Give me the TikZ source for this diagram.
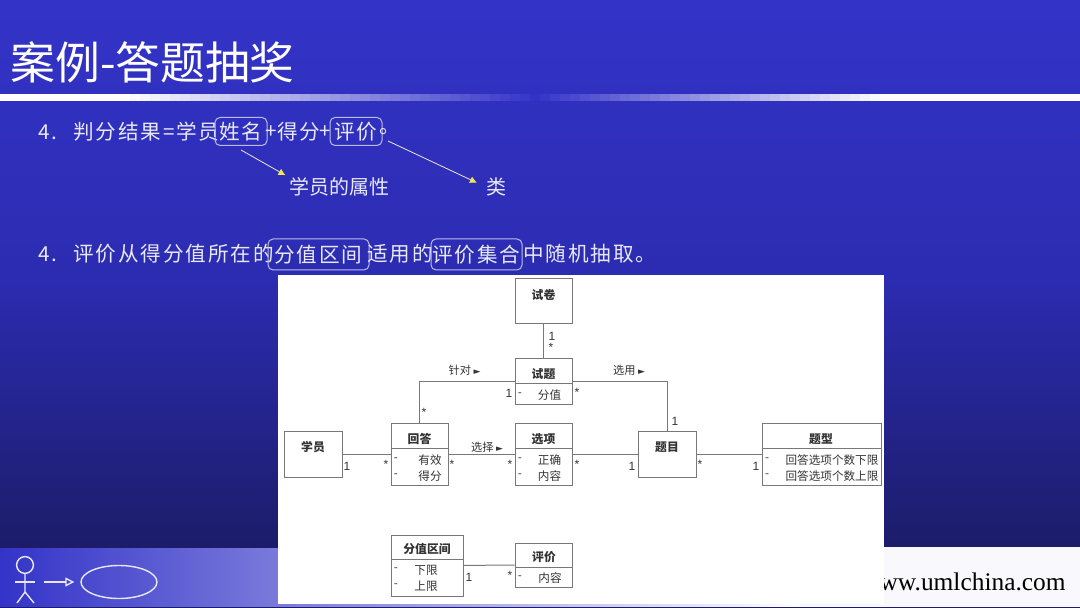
\documentclass[tikz,border=0pt]{standalone}
\usepackage{fontspec}
\setmainfont{Noto Sans CJK SC}
\newfontfamily\spacedfont[LetterSpace=9]{Noto Sans CJK SC}
\newfontfamily\latinsans{Liberation Sans}
\newfontfamily\latinserif{Liberation Serif}
\newfontfamily\symfont{DejaVu Sans}
\usetikzlibrary{arrows.meta,shapes.geometric}
\definecolor{slidetop}{HTML}{3333C8}
\definecolor{slidemid}{HTML}{2C2CB2}
\definecolor{slidebot}{HTML}{1C1C6A}
\definecolor{bodytext}{HTML}{E8E8F4}
\definecolor{umlline}{HTML}{787878}
\definecolor{umltext}{HTML}{333333}
\definecolor{tipyellow}{HTML}{F0E850}
\tikzset{
	bodytxt/.style={font=\spacedfont\fontsize{10.3}{13}\selectfont, text=bodytext, inner sep=0pt, anchor=west},
	labeltxt/.style={font=\fontsize{10}{12}\selectfont, text=bodytext, inner sep=0pt, anchor=west},
	markbox/.style={bodytxt, anchor=center, draw=bodytext!75!slidetop, line width=0.5pt, rounded corners=2.5pt, minimum height=14pt},
	pointer/.style={draw=bodytext!80!tipyellow, line width=0.4pt, -{Latex[length=3.5pt,width=3.5pt,fill=tipyellow,color=tipyellow]}},
	classbox/.style={draw=umlline, line width=0.5pt, fill=white, inner sep=0pt},
	classname/.style={font=\fontsize{5.9}{7}\selectfont\bfseries, text=umltext, inner sep=0pt},
	attr/.style={font=\fontsize{5.8}{7}\selectfont, text=umltext, inner sep=0pt},
	multi/.style={font=\latinsans\fontsize{6}{7}\selectfont, text=umltext, inner sep=0pt},
	assoc/.style={font=\fontsize{5.6}{7}\selectfont, text=umltext, inner sep=0pt},
	link/.style={draw=umlline, line width=0.5pt},
	iconline/.style={draw=bodytext, line width=0.7pt}
}
\def\umlclass#1(#2,#3)(#4,#5)#6{\node[classbox, minimum width=#4*0.5pt, minimum height=#5*0.5pt] (#1) at (#2,#3) {};}
\begin{document}
\begin{tikzpicture}[x=0.5pt,y=-0.5pt]
	\useasboundingbox (0,0) rectangle (1080,608);
	%%%%% slide %%%%%
	\fill[top color=slidetop, bottom color=slidemid] (0,0) rectangle (1080,275);
	\fill[top color=slidemid, bottom color=slidebot] (0,274) rectangle (1080,548);
	% title bar
	\fill[white] (0,94) rectangle (121,101.5);
	\foreach \bx in {120,130,...,520}{
		\pgfmathsetmacro\bmix{(\bx-120)/410*100}
		\fill[slidetop!\bmix!white] (\bx,94) rectangle (\bx+11,101.5);
	}
	\foreach \bx in {530,540,...,870}{
		\pgfmathsetmacro\bmix{(880-\bx)/350*100}
		\fill[slidetop!\bmix!white] (\bx,94) rectangle (\bx+11,101.5);
	}
	\fill[white] (880,94) rectangle (1080,101.5);
	% bottom strip
	\fill[left color=slidetop, right color=white] (0,547) rectangle (800,607);
	\fill[white!97!slidetop] (800,547) rectangle (1080,607);
	\draw[slidebot, line width=0.5pt] (0,547) -- (884,547);
	\draw[slidebot, line width=0.5pt] (0,607.5) -- (1080,607.5);
	\node[font=\fontsize{22.4}{26}\selectfont, text=white, inner sep=0pt, anchor=west] (title) at (10,62) {案例-答题抽奖};
	\node[font=\latinserif\fontsize{12.7}{15}\selectfont, text=black, inner sep=0pt, anchor=east] (site) at (1066,582) {www.umlchina.com};
	%%%%% text %%%%%
	\node[bodytxt] (numa) at (38,132) {4.};
	\node[bodytxt] (resa) at (73,132) {判分结果=学员};
	\node[markbox, minimum width=26pt] (xm) at (241,131.5) {姓名};
	\node[bodytxt, anchor=center] (plusa) at (271,132) {+};
	\node[bodytxt] (resb) at (277,132) {得分};
	\node[bodytxt, anchor=center] (plusb) at (325,132) {+};
	\node[markbox, minimum width=26pt] (pj) at (356,131.5) {评价};
	\node[bodytxt] (resc) at (379,132) {。};
	\node[labeltxt] (attrlbl) at (289,187) {学员的属性};
	\node[labeltxt] (lei) at (486,187) {类};
	\coordinate (xmtail) at (241,150);
	\coordinate (pjtail) at (388,141);
	\draw[pointer, shorten >=2pt] (xmtail) -- (attrlbl.north west);
	\draw[pointer, shorten >=5pt] (pjtail) -- (lei.west);
	\node[bodytxt] (numb) at (38,254) {4.};
	\node[bodytxt] (rula) at (73,254) {评价从得分值所在的};
	\node[markbox, minimum width=50.5pt, minimum height=15.5pt] (range) at (318.5,254.5) {分值区间};
	\node[bodytxt] (rulb) at (367,254) {适用的};
	\node[markbox, minimum width=45.5pt, minimum height=15.5pt] (pjset) at (476.5,254.5) {评价集合};
	\node[bodytxt] (rulc) at (523,254) {中随机抽取。};
	%%%%% icon %%%%%
	\node[iconline, draw, circle, minimum size=8.4pt, inner sep=0pt] (head) at (25,565) {};
	\coordinate (hip) at (25,592);
	\coordinate (footl) at (17,603);
	\coordinate (footr) at (34,603);
	\coordinate (arml) at (15,582);
	\coordinate (armr) at (35,582);
	\draw[iconline] (head) -- (hip) -- (footl);
	\draw[iconline] (hip) -- (footr);
	\draw[iconline] (arml) -- (armr);
	\node[iconline, draw, ellipse, minimum width=38pt, minimum height=16.5pt, inner sep=0pt] (usecase) at (119,582) {};
	\coordinate (arrowtail) at (44,582);
	\draw[iconline, -{Triangle[open,length=4.5pt,width=4.5pt]}, shorten >=3pt] (arrowtail) -- (usecase.west);
	%%%%% uml %%%%%
	\fill[white] (278,275) rectangle (884,604);
	\umlclass{paper}(543.5,301.5)(57,45){}
	\umlclass{item}(543.5,382)(57,46){}
	\umlclass{answer}(419.5,454.5)(57,61){}
	\umlclass{student}(313,454.5)(58,45){}
	\umlclass{option}(543.5,454.5)(57,61){}
	\umlclass{topic}(667,454.5)(58,45){}
	\umlclass{qtype}(821.5,454.5)(119,61){}
	\umlclass{band}(427,565.5)(72,61){}
	\umlclass{grade}(543.5,565)(57,44){}
	\draw[link] (paper) -- (item);
	\draw[link] (item.west) -| (answer.north);
	\draw[link] (item.east) -| (topic.north);
	\draw[link] (student) -- (answer);
	\draw[link] (answer) -- (option);
	\draw[link] (option) -- (topic);
	\draw[link] (topic) -- (qtype);
	\draw[link] (band) -- (grade);
	% dividers
	\foreach \cname/\ypos in {item/384, answer/449, option/449, qtype/449, band/559, grade/567}
		\draw[link] (\cname.west |- 0,\ypos) -- (\cname.east |- 0,\ypos);
	% class names
	\node[classname] (paperN) at (543.5,295) {试卷};
	\node[classname] (itemN) at (543.5,374) {试题};
	\node[classname] (answerN) at (419.5,439) {回答};
	\node[classname] (studentN) at (313,447) {学员};
	\node[classname] (optionN) at (543.5,439) {选项};
	\node[classname] (topicN) at (667,447) {题目};
	\node[classname] (qtypeN) at (821,439) {题型};
	\node[classname] (bandN) at (427,549) {分值区间};
	\node[classname] (gradeN) at (544,557) {评价};
	% attributes
	\foreach \dx/\ay/\atxt/\dashx in {
		549.5/395/分值/520, 430/460/有效/396, 430/476/得分/396,
		549.5/460/正确/520, 549.5/476/内容/520,
		832/460/回答选项个数下限/767, 832/476/回答选项个数上限/767,
		426/570/下限/396, 426/586/上限/396, 550/578/内容/520}
	{
		\node[attr] at (\dx,\ay) {\atxt};
		\node[attr] at (\dashx,\ay) {-};
	}
	% multiplicities
	\foreach \mx/\my/\mtxt in {
		552/336/1, 551/347/*, 509/393/1, 577/392/*, 424/412/*,
		347/466/1, 386/464/*, 452/464/*, 510/464/*, 577/464/*,
		675/421/1, 632/466/1, 700/464/*, 756/466/1, 469/577/1, 510/575/*}
		\node[multi] at (\mx,\my) {\mtxt};
	% association names
	\node[assoc] (aimlbl) at (464.5,370) {针对 {\symfont\fontsize{4.5}{5}\selectfont ►}};
	\node[assoc] (picklbl) at (487,447) {选择 {\symfont\fontsize{4.5}{5}\selectfont ►}};
	\node[assoc] (uselbl) at (629,370) {选用 {\symfont\fontsize{4.5}{5}\selectfont ►}};
\end{tikzpicture}
\end{document}
